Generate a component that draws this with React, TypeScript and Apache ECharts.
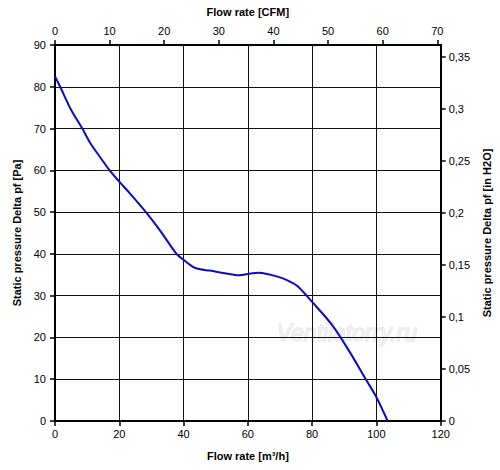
import React, { useEffect, useRef } from "react";
import * as echarts from "echarts";

// Flow rate [m³/h] and static pressure [Pa]
const flowM3h = [0, 1.6, 5, 8.5, 11, 14, 17, 20, 23.3, 28.3, 32.6, 37.8, 39.8, 42.9, 45.2, 48.1, 53.3, 57.4, 60, 63.3, 66, 69.5, 72.5, 75.4, 80, 86.3, 91.4, 96.6, 100, 103.5];
const pressurePa = [82.5, 80, 74.5, 70, 66.5, 63.2, 60, 57.3, 54.5, 50, 45.7, 40, 38.7, 36.9, 36.3, 36, 35.3, 34.9, 35.2, 35.5, 35.2, 34.5, 33.6, 32.3, 28.5, 22.9, 16.9, 10.1, 5.7, 0];

// Axis ranges / tick labels
const flowMax = 120;
const pressureMax = 90;
const cfmTicks = [0, 10, 20, 30, 40, 50, 60, 70];
const inH2OTicks = [0, 0.05, 0.1, 0.15, 0.2, 0.25, 0.3, 0.35];
const M3H_PER_CFM = 1.699011;
const PA_PER_INH2O = 249.089;

const FONT = "Liberation Sans, Arial, sans-serif";

export default function App() {
  const ref = useRef<HTMLDivElement>(null);
  useEffect(() => {
    if (!ref.current) return;
    const chart = echarts.init(ref.current, undefined, { renderer: "svg" });
    const labelStyle = { color: "#000", fontSize: 11, fontFamily: FONT };
    const nameStyle = { color: "#000", fontSize: 11, fontWeight: "bold" as const, fontFamily: FONT };
    const axisLine = { show: true, onZero: false, lineStyle: { color: "#000", width: 2 } };
    const axisTick = { show: true, length: 5, lineStyle: { color: "#000", width: 1.5 } };
    chart.setOption({
      animation: false,
      backgroundColor: "#fff",
      grid: { left: 55, right: 58, top: 45, bottom: 49, containLabel: false },
      xAxis: [
        {
          type: "value",
          position: "bottom",
          min: 0,
          max: flowMax,
          interval: 20,
          name: "Flow rate [m³/h]",
          nameLocation: "middle",
          nameGap: 29,
          nameTextStyle: nameStyle,
          axisLine,
          axisTick,
          axisLabel: { ...labelStyle, margin: 7 },
          splitLine: { show: true, lineStyle: { color: "#111", width: 1 } },
        },
        {
          type: "value",
          position: "top",
          min: 0,
          max: flowMax / M3H_PER_CFM,
          interval: 10,
          name: "Flow rate [CFM]",
          nameLocation: "middle",
          nameGap: 28,
          nameTextStyle: nameStyle,
          axisLine,
          axisTick: { ...axisTick, customValues: cfmTicks },
          axisLabel: { ...labelStyle, margin: 9, customValues: cfmTicks },
          splitLine: { show: false },
        },
      ],
      yAxis: [
        {
          type: "value",
          position: "left",
          min: 0,
          max: pressureMax,
          interval: 10,
          name: "Static pressure Delta pf [Pa]",
          nameLocation: "middle",
          nameGap: 33,
          nameTextStyle: nameStyle,
          axisLine,
          axisTick,
          axisLabel: { ...labelStyle, margin: 9 },
          splitLine: { show: true, lineStyle: { color: "#111", width: 1 } },
        },
        {
          type: "value",
          position: "right",
          min: 0,
          max: pressureMax / PA_PER_INH2O,
          interval: 0.05,
          name: "Static pressure Delta pf [in H2O]",
          nameLocation: "middle",
          nameGap: 40,
          nameTextStyle: nameStyle,
          axisLine,
          axisTick: { ...axisTick, customValues: inH2OTicks },
          axisLabel: {
            ...labelStyle,
            margin: 8,
            customValues: inH2OTicks,
            formatter: (v: number) => String(Math.round(v * 100) / 100).replace(".", ","),
          },
          splitLine: { show: false },
        },
      ],
      graphic: [
        {
          type: "text",
          left: 276,
          top: 321,
          z: 0,
          style: {
            text: "Ventilatorry.ru",
            fontSize: 23,
            fontStyle: "italic",
            fontFamily: FONT,
            fill: "#f2f2f2",
            stroke: "#d8d8d8",
            lineWidth: 0.8,
          },
        },
      ],
      series: [
        {
          type: "line",
          xAxisIndex: 0,
          yAxisIndex: 0,
          data: flowM3h.map((q, i) => [q, pressurePa[i]]),
          smooth: 0.3,
          showSymbol: false,
          symbol: "none",
          lineStyle: { color: "#0a0ac8", width: 2 },
          z: 5,
        },
      ],
    });
    return () => chart.dispose();
  }, []);
  return (
    <div
      ref={ref}
      style={{ position: "absolute", left: 0, top: 0, width: 500, height: 470 }}
    />
  );
}
